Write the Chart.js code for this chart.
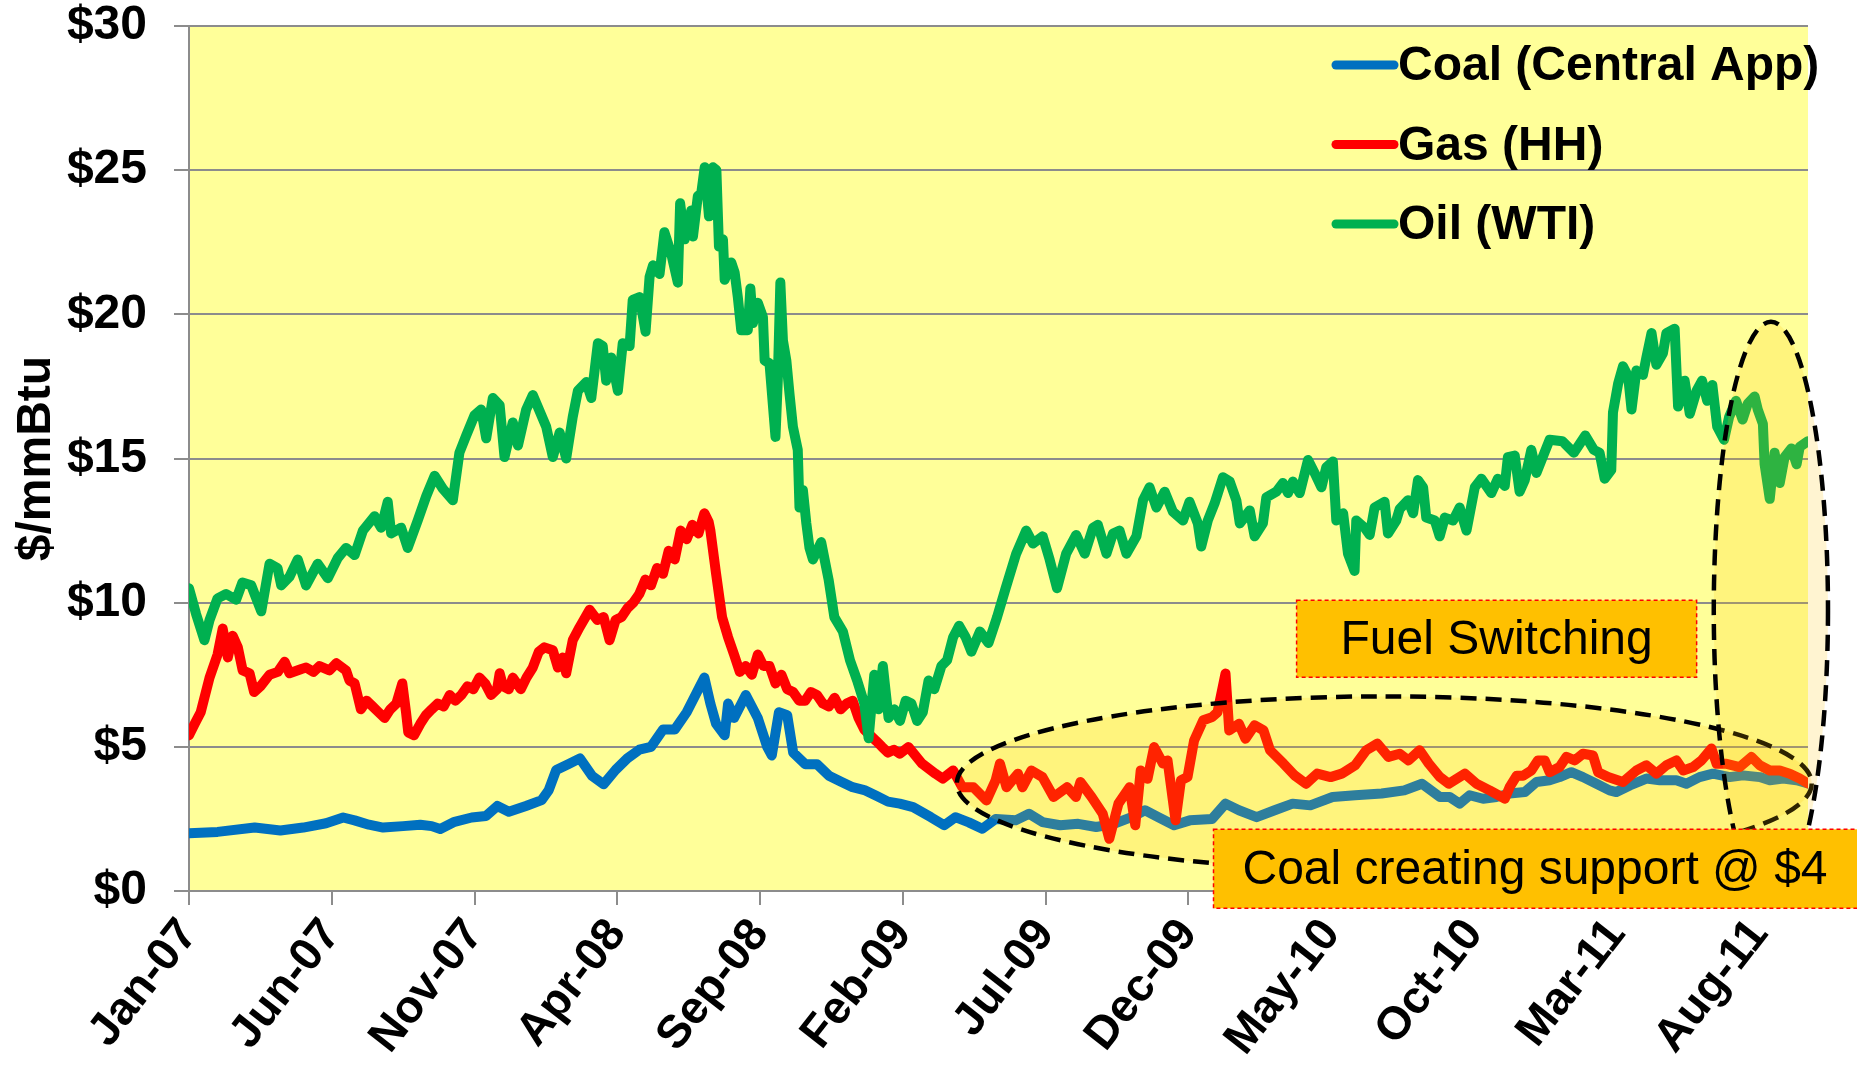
<!DOCTYPE html>
<html>
<head>
<meta charset="utf-8">
<script src="https://cdn.jsdelivr.net/npm/chart.js@4.4.1/dist/chart.umd.min.js"></script>
<style>
  html, body { margin: 0; padding: 0; background: #fff; }
  #wrap { width: 1857px; height: 1068px; }
</style>
</head>
<body>
<div id="wrap"><canvas id="fuel-chart" width="1857" height="1068"></canvas></div>
<script>
// x values are months since Jan-2007, y values are $/mmBtu

const tickLabels = ['Jan-07', 'Jun-07', 'Nov-07', 'Apr-08', 'Sep-08', 'Feb-09',
    'Jul-09', 'Dec-09', 'May-10', 'Oct-10', 'Mar-11', 'Aug-11'];

const seriesNames = ['Coal (Central App)', 'Gas (HH)', 'Oil (WTI)'];

const coalMonths = [0, 1.0, 2.3, 3.2, 4.0, 4.8, 5.4, 5.8, 6.3, 6.8, 7.5, 8.1, 8.5, 8.8, 9.3, 9.9, 10.4, 10.8,
    11.2, 11.8, 12.35, 12.6, 12.86, 13.28, 13.69, 14.11, 14.52, 14.94, 15.35, 15.77, 16.18, 16.6, 17.01,
    17.43, 17.84, 18.05, 18.26, 18.46, 18.76, 18.88, 19.09, 19.5, 19.92, 20.25, 20.41, 20.66, 20.95, 21.16,
    21.58, 21.99, 22.41, 22.82, 23.24, 23.65, 24.07, 24.48, 24.89, 25.36, 25.98, 26.45, 26.84, 27.31, 27.78,
    28.25, 28.95, 29.42, 29.89, 30.51, 31.14, 31.77, 32.39, 33.01, 33.48, 33.95, 34.5, 35.05, 35.83, 36.3,
    36.77, 37.39, 38.02, 38.65, 39.27, 40.05, 40.84, 41.77, 42.56, 43.18, 43.81, 44.15, 44.5, 44.85, 45.32,
    45.79, 46.25, 46.78, 47.19, 47.65, 48.0, 48.41, 48.82, 49.29, 49.75, 49.99, 50.46, 51.04, 51.51, 52.09,
    52.44, 52.9, 53.37, 53.96, 54.42, 55.01, 55.36, 55.83, 56.3, 56.7];
const coalValues = [2.0, 2.05, 2.2, 2.1, 2.2, 2.35, 2.55, 2.45, 2.3, 2.2, 2.25, 2.3, 2.25, 2.15, 2.4, 2.55, 2.6, 2.95,
    2.75, 2.95, 3.15, 3.5, 4.2, 4.4, 4.6, 4.0, 3.7, 4.2, 4.6, 4.9, 5.0, 5.6, 5.6,
    6.2, 7.0, 7.4, 6.5, 5.8, 5.4, 6.5, 6.0, 6.8, 6.0, 5.0, 4.7, 6.2, 6.1, 4.8,
    4.4, 4.4, 4.0, 3.8, 3.6, 3.5, 3.3, 3.1, 3.03, 2.91, 2.56, 2.28, 2.56, 2.38, 2.16,
    2.5, 2.45, 2.68, 2.39, 2.28, 2.33, 2.22, 2.33, 2.56, 2.8, 2.56, 2.28, 2.45, 2.5, 3.03,
    2.8, 2.56, 2.8, 3.03, 2.97, 3.26, 3.32, 3.38, 3.49, 3.72, 3.26, 3.26, 3.03, 3.32, 3.2,
    3.26, 3.38, 3.43, 3.78, 3.84, 3.95, 4.12, 3.95, 3.72, 3.49, 3.43, 3.66, 3.9, 3.84, 3.84,
    3.72, 3.95, 4.07, 3.95, 4.01, 3.95, 3.84, 3.9, 3.84, 3.73];

const gasMonths = [0, 0.2, 0.41, 0.72, 1.0, 1.18, 1.36, 1.53, 1.71, 1.88, 2.12, 2.28, 2.5, 2.82, 3.11, 3.35, 3.52,
    3.94, 4.1, 4.36, 4.57, 4.92, 5.16, 5.5, 5.62, 5.8, 6.02, 6.22, 6.43, 6.64, 6.85, 7.05, 7.26, 7.47, 7.6,
    7.68, 7.88, 8.1, 8.3, 8.5, 8.71, 8.92, 9.13, 9.33, 9.54, 9.75, 9.96, 10.17, 10.37, 10.58, 10.79, 10.88,
    11.0, 11.2, 11.34, 11.62, 11.82, 12.04, 12.25, 12.45, 12.74, 12.92, 13.09, 13.21, 13.44, 13.68, 14.03,
    14.3, 14.52, 14.73, 14.94, 15.15, 15.35, 15.56, 15.77, 15.98, 16.18, 16.39, 16.6, 16.8, 17.01, 17.22,
    17.43, 17.63, 17.84, 18.05, 18.2, 18.26, 18.46, 18.67, 18.88, 19.09, 19.29, 19.5, 19.71, 19.92, 20.12,
    20.33, 20.54, 20.75, 20.95, 21.16, 21.37, 21.58, 21.78, 21.99, 22.2, 22.41, 22.61, 22.82, 23.03, 23.24,
    23.45, 23.65, 23.86, 24.07, 24.27, 24.48, 24.69, 24.89, 25.2, 25.67, 26.14, 26.4, 26.76, 27.08, 27.47,
    27.93, 28.25, 28.4, 28.63, 29.03, 29.19, 29.5, 29.89, 30.28, 30.75, 31.06, 31.22, 31.61, 32.0, 32.23,
    32.55, 32.94, 33.14, 33.33, 33.57, 33.8, 34.11, 34.27, 34.55, 34.74, 34.97, 35.2, 35.52, 35.83, 36.02,
    36.3, 36.43, 36.77, 37.0, 37.32, 37.63, 37.86, 38.33, 38.72, 39.12, 39.51, 39.98, 40.37, 40.84, 41.23,
    41.62, 42.01, 42.4, 42.71, 43.1, 43.42, 43.81, 44.12, 44.68, 45.09, 45.55, 46.08, 46.25, 46.5, 46.72,
    47.01, 47.24, 47.48, 47.65, 48.0, 48.24, 48.53, 48.82, 49.17, 49.35, 49.7, 50.22, 50.69, 51.04, 51.39,
    51.74, 52.09, 52.33, 52.68, 52.97, 53.32, 53.5, 53.85, 54.31, 54.72, 55.01, 55.36, 55.71, 56.06, 56.41,
    56.7];
const gasValues = [5.4, 5.8, 6.2, 7.4, 8.2, 9.1, 8.1, 8.85, 8.45, 7.65, 7.55, 6.9, 7.1, 7.5, 7.6, 7.95, 7.55,
    7.7, 7.75, 7.6, 7.8, 7.65, 7.9, 7.65, 7.3, 7.2, 6.3, 6.6, 6.4, 6.2, 6.0, 6.3, 6.5, 7.2, 6.2,
    5.5, 5.4, 5.8, 6.1, 6.3, 6.5, 6.4, 6.8, 6.6, 6.8, 7.1, 7.0, 7.4, 7.2, 6.8, 7.0, 7.55,
    7.1, 7.0, 7.4, 7.0, 7.4, 7.75, 8.3, 8.45, 8.35, 7.75, 8.1, 7.55, 8.7, 9.15, 9.75,
    9.4, 9.5, 8.7, 9.4, 9.5, 9.8, 10.0, 10.3, 10.8, 10.6, 11.2, 11.0, 11.8, 11.5, 12.5,
    12.2, 12.7, 12.4, 13.1, 12.8, 12.5, 11.0, 9.5, 8.8, 8.2, 7.6, 7.8, 7.5, 8.2, 7.8,
    7.8, 7.2, 7.5, 7.0, 6.9, 6.6, 6.6, 6.9, 6.8, 6.5, 6.4, 6.7, 6.3, 6.5, 6.6,
    6.0, 5.6, 5.4, 5.2, 5.0, 4.8, 4.9, 4.76, 4.99, 4.42, 4.07, 3.9, 4.18, 3.6, 3.6,
    3.14, 3.84, 4.42, 3.6, 4.07, 3.6, 4.18, 3.95, 3.26, 3.6, 3.26, 3.78, 3.26, 2.68, 1.81,
    3.03, 3.6, 2.28, 4.18, 3.89, 4.99, 4.42, 4.53, 2.45, 3.84, 3.95, 5.22, 5.92, 6.03, 6.2,
    7.54, 5.57, 5.8, 5.28, 5.75, 5.57, 4.88, 4.42, 4.01, 3.72, 4.07, 3.95, 4.07, 4.36, 4.88,
    5.11, 4.65, 4.76, 4.53, 4.88, 4.42, 3.95, 3.72, 4.07, 3.72, 3.49, 3.2, 3.6, 4.0, 4.0,
    4.18, 4.53, 4.53, 4.12, 4.3, 4.65, 4.53, 4.76, 4.7, 4.12, 3.95, 3.78, 4.18, 4.36, 4.07,
    4.36, 4.53, 4.18, 4.3, 4.53, 4.94, 4.41, 4.41, 4.3, 4.65, 4.36, 4.18, 4.18, 4.07, 3.9,
    3.73];

const oilMonths = [0, 0.25, 0.54, 0.72, 1.0, 1.3, 1.65, 1.87, 2.18, 2.53, 2.82, 3.1, 3.23, 3.52, 3.81, 4.1, 4.51,
    4.86, 5.21, 5.5, 5.8, 6.09, 6.5, 6.73, 6.96, 7.08, 7.43, 7.66, 8.01, 8.31, 8.6, 8.89, 9.24, 9.47, 9.71,
    10.0, 10.23, 10.41, 10.64, 10.88, 11.05, 11.34, 11.52, 11.81, 12.04, 12.51, 12.74, 12.98, 13.21, 13.44,
    13.62, 13.91, 14.09, 14.32, 14.49, 14.61, 14.79, 15.02, 15.19, 15.43, 15.54, 15.78, 15.99, 16.13, 16.25,
    16.48, 16.65, 16.89, 17.12, 17.2, 17.36, 17.59, 17.65, 17.82, 17.94, 18.06, 18.21, 18.35, 18.47, 18.56,
    18.7, 18.76, 18.99, 19.11, 19.22, 19.34, 19.57, 19.66, 19.75, 19.92, 20.1, 20.16, 20.33, 20.54, 20.62,
    20.71, 20.8, 20.92, 21.03, 21.15, 21.32, 21.38, 21.5, 21.62, 21.73, 21.85, 22.14, 22.26, 22.4, 22.6,
    22.9, 23.15, 23.4, 23.65, 23.8, 24.0, 24.15, 24.3, 24.5, 24.7, 24.9, 25.1, 25.3, 25.5, 25.7, 25.9, 26.1,
    26.35, 26.55, 26.76, 26.97, 27.2, 27.4, 27.7, 28.0, 28.3, 28.6, 28.97, 29.32, 29.56, 29.9, 30.14, 30.4,
    30.72, 31.07, 31.37, 31.66, 31.83, 32.13, 32.36, 32.59, 32.83, 33.18, 33.41, 33.64, 33.88, 34.17, 34.46,
    34.81, 35.04, 35.33, 35.45, 35.68, 35.92, 36.21, 36.45, 36.68, 36.8, 37.15, 37.32, 37.61, 37.73, 38.08,
    38.31, 38.49, 38.66, 38.9, 39.19, 39.42, 39.66, 39.83, 40.06, 40.18, 40.42, 40.59, 40.82, 40.88, 41.17,
    41.35, 41.52, 41.87, 41.99, 42.28, 42.4, 42.69, 42.87, 43.04, 43.22, 43.33, 43.63, 43.8, 43.98, 44.27,
    44.5, 44.74, 45.03, 45.26, 45.61, 45.84, 46.08, 46.19, 46.43, 46.6, 46.78, 47.01, 47.19, 47.65, 48.1,
    48.5, 48.9, 49.2, 49.4, 49.58, 49.81, 49.87, 50.05, 50.22, 50.4, 50.52, 50.69, 50.92, 51.04, 51.22,
    51.39, 51.62, 51.74, 52.03, 52.15, 52.38, 52.56, 52.8, 52.99, 53.17, 53.35, 53.52, 53.76, 53.94, 54.18,
    54.41, 54.59, 54.83, 54.94, 55.12, 55.18, 55.36, 55.53, 55.71, 55.88, 56.12, 56.3, 56.41, 56.7];
const oilValues = [10.5, 9.6, 8.7, 9.4, 10.15, 10.3, 10.1, 10.7, 10.6, 9.7, 11.35, 11.2, 10.6, 10.9, 11.5, 10.6, 11.35,
    10.85, 11.55, 11.9, 11.65, 12.5, 13.0, 12.6, 13.5, 12.4, 12.6, 11.9, 12.85, 13.7, 14.4, 13.95, 13.55, 15.2, 15.8,
    16.5, 16.7, 15.7, 17.1, 16.85, 15.05, 16.25, 15.45, 16.7, 17.2, 16.1, 15.05, 15.9, 15.0, 16.45,
    17.35, 17.65, 17.1, 19.0, 18.9, 17.7, 18.5, 17.35, 19.0, 18.9, 20.5, 20.6, 19.4, 21.3, 21.7,
    21.4, 22.85, 22.1, 21.1, 23.85, 22.6, 23.6, 22.7, 24.1, 24.2, 25.1, 23.4, 25.1, 25.0, 22.35,
    22.6, 21.2, 21.8, 21.45, 20.6, 19.45, 19.45, 20.9, 19.7, 20.4, 19.9, 18.4, 18.3, 15.75, 17.7,
    21.1, 19.1, 18.4, 17.25, 16.1, 15.3, 13.3, 13.9, 12.75, 11.9, 11.5, 12.1, 11.5, 10.8, 9.5,
    9.0, 8.0, 7.3, 6.5, 5.3, 7.5, 6.3, 7.8, 6.0, 6.3, 5.9, 6.6, 6.5, 5.9, 6.2, 7.3, 7.0,
    7.8, 8.0, 8.8, 9.2, 8.8, 8.3, 9.0, 8.6, 9.5, 10.5, 11.7, 12.5, 12.05, 12.3, 11.5, 10.5,
    11.7, 12.35, 11.7, 12.6, 12.7, 11.7, 12.4, 12.5, 11.7, 12.3, 13.55, 14.0, 13.3, 13.85, 13.15,
    12.85, 13.5, 12.75, 11.95, 12.85, 13.45, 14.35, 14.2, 13.55, 12.75, 13.2, 12.3, 12.75, 13.65, 13.85,
    14.15, 13.8, 14.2, 13.8, 14.95, 14.5, 14.0, 14.7, 14.9, 12.85, 13.1, 11.7, 11.1, 12.85, 12.6,
    12.35, 13.3, 13.5, 12.4, 12.85, 13.25, 13.55, 13.1, 14.25, 14.0, 12.95, 12.85, 12.3, 12.95, 12.85,
    13.3, 12.5, 14.0, 14.3, 13.8, 14.3, 14.05, 15.05, 15.1, 13.85, 14.25, 15.3, 14.5, 15.65, 15.6,
    15.2, 15.8, 15.3, 15.2, 14.3, 14.6, 16.6, 17.6, 18.2, 17.85, 16.7, 18.05, 17.9, 18.5, 19.35,
    18.25, 18.65, 19.35, 19.5, 16.8, 17.7, 16.55, 17.35, 17.7, 17.0, 17.55, 16.1, 15.65, 16.45, 17.0,
    16.35, 16.9, 17.15, 16.7, 16.2, 14.8, 13.6, 15.2, 14.15, 15.05, 15.35, 14.8, 15.4, 15.6];

const lineColors = ['#0070C0', '#FF0000', '#00B050'];

function toPoints(months, values) {
    return months.map((m, i) => ({ x: m, y: values[i] }));
}

const FONT = '"Liberation Sans", Arial, sans-serif';

// shapes drawn on top of the plot, placed in data units (months / $)
const ellipses = [
    { cx: 41.86, cy: 3.73, rx: 14.97, ry: 3.02 },
    { cx: 55.4, cy: 9.74, rx: 2.0, ry: 10.0 }
];
const notes = [
    { text: 'Fuel Switching', x1: 38.79, x2: 52.8, y1: 10.08, y2: 7.41, align: 'center' },
    { text: 'Coal creating support @ $4', x1: 35.88, x2: 59.5, y1: 2.14, y2: -0.6, align: 'left' }
];

const backgroundPlugin = {
    id: 'plotBackground',
    beforeDraw(chart) {
        const { ctx, chartArea } = chart;
        ctx.save();
        ctx.fillStyle = '#ffffff';
        ctx.fillRect(0, 0, chart.width, chart.height);
        ctx.fillStyle = '#FFFF99';
        ctx.fillRect(chartArea.left, chartArea.top, chartArea.right - chartArea.left, chartArea.bottom - chartArea.top);
        ctx.restore();
    }
};

const overlayPlugin = {
    id: 'overlay',
    afterDatasetsDraw(chart) {
        const { ctx, scales: { x, y } } = chart;
        ctx.save();
        ellipses.forEach(e => {
            const cx = x.getPixelForValue(e.cx);
            const cy = y.getPixelForValue(e.cy);
            const rx = x.getPixelForValue(e.cx + e.rx) - cx;
            const ry = cy - y.getPixelForValue(e.cy + e.ry);
            ctx.beginPath();
            ctx.ellipse(cx, cy, rx, ry, 0, 0, Math.PI * 2);
            ctx.fillStyle = 'rgba(255, 192, 0, 0.18)';
            ctx.fill();
            ctx.setLineDash([16, 9]);
            ctx.lineWidth = 4.5;
            ctx.strokeStyle = '#000';
            ctx.stroke();
        });
        notes.forEach(n => {
            const left = x.getPixelForValue(n.x1);
            const right = x.getPixelForValue(n.x2);
            const top = y.getPixelForValue(n.y1);
            const bottom = y.getPixelForValue(n.y2);
            ctx.setLineDash([]);
            ctx.fillStyle = '#FFC000';
            ctx.fillRect(left, top, right - left, bottom - top);
            ctx.setLineDash([4, 3]);
            ctx.lineWidth = 1.5;
            ctx.strokeStyle = '#FF0000';
            ctx.strokeRect(left, top, right - left, bottom - top);
            ctx.fillStyle = '#000';
            ctx.font = '48px ' + FONT;
            ctx.textBaseline = 'middle';
            if (n.align === 'center') {
                ctx.textAlign = 'center';
                ctx.fillText(n.text, (left + right) / 2, (top + bottom) / 2 + 2);
            } else {
                ctx.textAlign = 'left';
                ctx.fillText(n.text, left + 29, (top + bottom) / 2 + 2);
            }
        });
        ctx.restore();
    }
};

const legendPlugin = {
    id: 'insideLegend',
    afterDraw(chart) {
        const { ctx, chartArea } = chart;
        const lineX = chartArea.right - 472;
        ctx.save();
        ctx.font = 'bold 48px ' + FONT;
        ctx.textBaseline = 'middle';
        ctx.textAlign = 'left';
        seriesNames.forEach((name, i) => {
            const rowY = chartArea.top + 39 + i * 79.5;
            ctx.beginPath();
            ctx.moveTo(lineX, rowY);
            ctx.lineTo(lineX + 58, rowY);
            ctx.lineCap = 'round';
            ctx.lineWidth = 9;
            ctx.strokeStyle = lineColors[i];
            ctx.stroke();
            ctx.fillStyle = '#000';
            ctx.fillText(name, lineX + 62, rowY + 2);
        });
        ctx.restore();
    }
};

const series = [
    toPoints(coalMonths, coalValues),
    toPoints(gasMonths, gasValues),
    toPoints(oilMonths, oilValues)
];

new Chart(document.getElementById('fuel-chart').getContext('2d'), {
    type: 'line',
    data: {
        datasets: series.map((points, i) => ({
            label: seriesNames[i],
            data: points,
            borderColor: lineColors[i],
            borderWidth: 10,
            pointRadius: 0,
            tension: 0,
            borderJoinStyle: 'round',
            borderCapStyle: 'round',
            order: 3 - i
        }))
    },
    options: {
        responsive: false,
        animation: false,
        devicePixelRatio: 1,
        layout: { padding: { left: 0, right: 49, top: 0, bottom: 0 } },
        plugins: { legend: { display: false }, tooltip: { enabled: false } },
        scales: {
            x: {
                type: 'linear',
                min: 0,
                max: 56.7,
                afterBuildTicks: scale => {
                    scale.ticks = tickLabels.map((_, i) => ({ value: i * 5 }));
                },
                afterFit: scale => { scale.height = 177; },
                ticks: {
                    autoSkip: false,
                    minRotation: 52,
                    maxRotation: 52,
                    padding: 4,
                    color: '#000',
                    font: { family: FONT, size: 46, weight: 'bold' },
                    callback: v => tickLabels[Math.round(v / 5)]
                },
                grid: { drawOnChartArea: false, drawTicks: true, tickLength: 14, color: '#8c8c8c', lineWidth: 2 },
                border: { color: '#8c8c8c', width: 2 }
            },
            y: {
                min: 0,
                max: 30,
                afterFit: scale => {
                    scale.width = 189;
                    scale.paddingTop = 26;
                    scale.paddingBottom = 0;
                },
                ticks: {
                    stepSize: 5,
                    padding: 27,
                    color: '#000',
                    font: { family: FONT, size: 48, weight: 'bold' },
                    callback: v => '$' + v
                },
                grid: { color: '#8c8c8c', lineWidth: 2, tickLength: 15 },
                border: { color: '#8c8c8c', width: 2 },
                title: {
                    display: true,
                    text: '$/mmBtu',
                    color: '#000',
                    padding: { top: 8, bottom: 0 },
                    font: { family: FONT, size: 48, weight: 'bold' }
                }
            }
        }
    },
    plugins: [backgroundPlugin, overlayPlugin, legendPlugin]
});
</script>
</body>
</html>
